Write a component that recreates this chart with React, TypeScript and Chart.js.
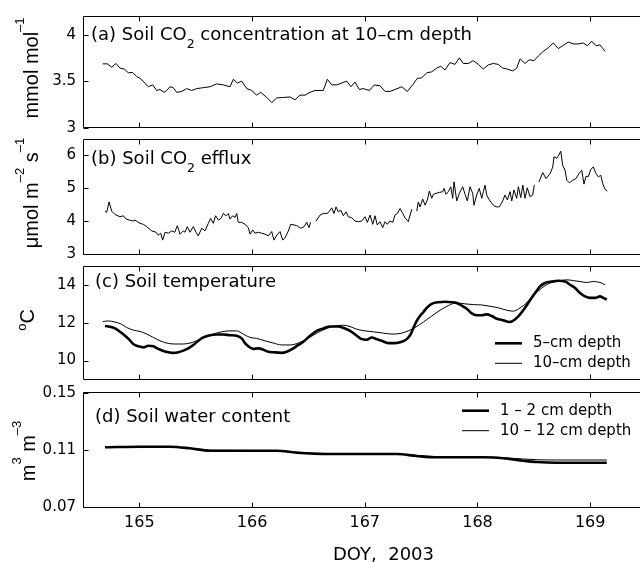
import React, { useEffect, useRef } from "react";
import { Chart, registerables } from "chart.js";

Chart.register(...registerables);

const W = 640;
const H = 562;
const DJ = "'DejaVu Sans', sans-serif";
const LS = "'Liberation Sans', Arial, sans-serif";

// ---------- x axis ----------
const X_MIN = 164.5;
const X_MAX = 169.442;
const X_TICKS = [165, 166, 167, 168, 169];

// ---------- (a) soil CO2 concentration at 10 cm (mmol/mol) ----------
const CO2_DOY = [164.675,164.716,164.755,164.793,164.828,164.866,164.902,164.941,164.976,165.006,165.041,165.079,165.118,165.154,165.183,165.219,165.243,165.272,165.301,165.331,165.376,165.42,165.465,165.509,165.567,165.627,165.686,165.745,165.804,165.834,165.869,165.908,165.953,165.997,166.041,166.077,166.13,166.174,166.219,166.277,166.337,166.381,166.425,166.47,166.514,166.559,166.603,166.632,166.668,166.707,166.751,166.795,166.84,166.878,166.913,166.952,166.987,167.04,167.085,167.135,167.18,167.224,167.268,167.328,167.378,167.425,167.466,167.505,167.55,167.594,167.638,167.674,167.712,167.756,167.801,167.839,167.874,167.919,167.963,168.008,168.052,168.096,168.141,168.185,168.224,168.265,168.313,168.348,168.378,168.422,168.46,168.502,168.54,168.584,168.629,168.673,168.717,168.762,168.806,168.851,168.895,168.939,168.975,169.014,169.052,169.087,169.132];
const CO2_CONC = [3.686,3.686,3.65,3.69,3.64,3.63,3.59,3.594,3.55,3.53,3.49,3.44,3.46,3.40,3.41,3.38,3.40,3.44,3.43,3.38,3.39,3.42,3.40,3.42,3.43,3.44,3.47,3.46,3.44,3.52,3.48,3.50,3.42,3.40,3.35,3.38,3.325,3.27,3.32,3.325,3.33,3.30,3.35,3.35,3.38,3.40,3.40,3.40,3.52,3.46,3.46,3.48,3.50,3.44,3.49,3.41,3.42,3.40,3.46,3.45,3.39,3.39,3.41,3.44,3.39,3.46,3.53,3.535,3.59,3.60,3.64,3.66,3.62,3.70,3.68,3.75,3.69,3.69,3.72,3.68,3.63,3.675,3.69,3.68,3.64,3.63,3.61,3.64,3.74,3.69,3.73,3.72,3.77,3.82,3.86,3.91,3.85,3.885,3.92,3.90,3.90,3.91,3.88,3.93,3.88,3.89,3.82];

// ---------- (b) soil CO2 efflux (umol m-2 s-1), null = missing ----------
const EFFLUX_DOY = [164.695,164.71,164.731,164.755,164.784,164.828,164.858,164.882,164.911,164.941,164.961,165.006,165.035,165.065,165.11,165.148,165.168,165.189,165.207,165.228,165.257,165.287,165.314,165.337,165.361,165.39,165.405,165.425,165.449,165.479,165.503,165.523,165.553,165.583,165.612,165.633,165.656,165.677,165.701,165.724,165.745,165.769,165.789,165.804,165.828,165.849,165.864,165.878,165.908,165.937,165.967,165.982,166.006,166.026,166.055,166.086,166.115,166.144,166.174,166.195,166.219,166.248,166.272,166.292,166.322,166.343,166.372,166.396,166.432,166.461,166.485,166.505,166.52,166.543,166.567,166.603,166.632,166.668,166.685,166.707,166.727,166.745,166.765,166.787,166.81,166.834,166.854,166.884,166.913,166.943,166.973,167.002,167.023,167.047,167.071,167.091,167.111,167.135,167.159,167.18,167.2,167.224,167.248,167.268,167.289,167.313,167.337,167.357,167.386,167.417,167.44,167.461,167.475,167.49,167.514,167.535,167.555,167.573,167.594,167.608,167.632,167.662,167.692,167.703,167.721,167.741,167.763,167.78,167.792,167.816,167.839,167.869,167.89,167.91,167.934,167.958,167.969,167.993,168.016,168.038,168.052,168.067,168.082,168.105,168.141,168.165,168.194,168.224,168.244,168.265,168.289,168.304,168.324,168.348,168.363,168.384,168.402,168.422,168.442,168.466,168.49,168.504,168.525,168.546,168.579,168.608,168.644,168.668,168.679,168.703,168.721,168.739,168.756,168.777,168.792,168.815,168.845,168.874,168.904,168.925,168.945,168.963,168.984,169.005,169.028,169.052,169.072,169.094,169.111,169.132,169.152];
const EFFLUX = [4.31,4.27,4.59,4.31,4.21,4.14,4.17,4.07,4.04,4.01,4.04,3.94,3.91,3.84,3.71,3.67,3.58,3.64,3.43,3.67,3.64,3.71,3.67,3.87,3.61,3.71,3.67,3.84,3.67,3.84,3.67,3.56,3.79,3.71,3.94,4.09,3.94,4.17,4.04,4.09,4.24,4.17,4.24,4.07,4.17,4.12,4.24,3.97,3.97,3.91,3.81,3.61,3.74,3.64,3.67,3.64,3.61,3.56,3.69,3.43,3.58,3.69,3.43,3.50,3.71,3.91,3.89,3.87,3.79,3.84,3.97,3.81,3.97,null,4.01,4.19,4.24,4.24,4.31,4.41,4.24,4.44,4.29,4.34,4.17,4.29,4.14,4.11,4.01,3.99,4.01,4.14,3.97,4.19,3.91,4.17,3.89,3.99,3.81,3.99,3.91,4.01,3.97,4.19,4.24,4.39,4.24,4.11,3.99,4.37,null,4.31,4.59,4.44,4.68,4.49,4.65,4.92,4.70,4.82,4.85,4.88,4.90,5.0,4.82,4.90,5.05,4.70,5.2,4.62,4.85,5.05,4.82,4.62,5.05,4.85,4.49,4.80,5.0,4.70,4.90,5.10,4.80,4.65,4.49,4.44,4.44,4.62,4.80,4.65,4.90,4.62,4.95,4.70,5.05,4.72,5.10,4.70,5.02,4.75,4.80,5.10,null,5.2,5.48,5.30,5.45,5.65,5.96,5.91,6.01,6.13,5.70,5.55,5.25,5.17,5.25,5.30,5.47,5.55,5.13,5.37,5.36,5.58,5.65,5.45,5.35,5.40,5.15,4.97,4.92];

// ---------- (c) soil temperature (degC) ----------
const T5_DOY = [164.695,164.74,164.784,164.828,164.873,164.911,164.946,164.991,165.035,165.079,165.124,165.168,165.213,165.257,165.301,165.346,165.39,165.434,165.479,165.523,165.567,165.627,165.686,165.745,165.804,165.864,165.908,165.937,165.967,166.011,166.055,166.1,166.144,166.189,166.263,166.307,166.366,166.41,166.455,166.514,166.574,166.632,166.692,166.765,166.825,166.884,166.929,166.973,167.017,167.062,167.106,167.15,167.209,167.268,167.328,167.372,167.408,167.437,167.461,167.49,167.52,167.55,167.594,167.653,167.712,167.772,167.816,167.86,167.905,167.949,167.993,168.038,168.082,168.127,168.171,168.229,168.283,168.333,168.378,168.422,168.466,168.511,168.555,168.599,168.659,168.717,168.777,168.821,168.866,168.91,168.954,168.999,169.043,169.087,169.117,169.147];
const T5 = [11.84,11.80,11.71,11.53,11.32,11.11,10.88,10.76,10.70,10.79,10.76,10.62,10.51,10.44,10.41,10.44,10.53,10.65,10.83,11.05,11.23,11.35,11.39,11.39,11.35,11.32,11.18,10.93,10.76,10.62,10.65,10.58,10.47,10.44,10.41,10.47,10.65,10.83,11.0,11.32,11.58,11.71,11.81,11.81,11.71,11.53,11.32,11.14,11.11,11.23,11.14,11.05,10.93,10.93,11.0,11.14,11.41,11.81,12.11,12.37,12.58,12.81,13.02,13.11,13.13,13.11,13.07,12.93,12.76,12.51,12.41,12.41,12.46,12.37,12.23,12.14,12.05,12.19,12.46,12.81,13.21,13.60,13.95,14.13,14.21,14.25,14.21,14.04,13.86,13.60,13.42,13.34,13.34,13.42,13.34,13.25];
const T10_DOY = [164.675,164.724,164.784,164.843,164.888,164.946,165.006,165.065,165.124,165.183,165.243,165.316,165.385,165.449,165.509,165.583,165.656,165.731,165.804,165.864,165.922,165.982,166.041,166.115,166.189,166.263,166.337,166.41,166.485,166.574,166.662,166.736,166.81,166.869,166.929,167.002,167.076,167.165,167.239,167.313,167.386,167.446,167.52,167.594,167.668,167.741,167.816,167.89,167.963,168.038,168.111,168.185,168.26,168.318,168.378,168.437,168.496,168.57,168.644,168.703,168.792,168.851,168.91,168.969,169.028,169.087,169.132];
const T10 = [12.07,12.11,12.05,11.93,11.76,11.62,11.55,11.41,11.23,11.05,10.93,10.88,10.88,10.93,11.05,11.23,11.41,11.53,11.58,11.58,11.41,11.23,11.18,11.05,10.93,10.83,10.83,10.93,11.14,11.46,11.71,11.84,11.88,11.81,11.67,11.58,11.53,11.46,11.41,11.44,11.58,11.76,12.05,12.37,12.68,12.93,13.07,13.02,12.98,12.96,12.89,12.81,12.68,12.63,12.81,13.07,13.46,13.86,14.13,14.21,14.30,14.26,14.21,14.16,14.21,14.16,14.04];

// ---------- (d) soil water content (m3 m-3) ----------
const SWC_DOY = [164.695,165.006,165.272,165.449,165.627,165.893,166.219,166.396,166.692,167.076,167.283,167.461,167.638,167.816,168.052,168.229,168.407,168.526,168.703,169.147];
const SWC_1_2 = [0.1118,0.1122,0.1122,0.1111,0.1094,0.1094,0.1094,0.1080,0.1071,0.1071,0.1071,0.1057,0.1048,0.1048,0.1048,0.1041,0.1024,0.1015,0.1010,0.1010];
const SWC_10_12 = [0.1117,0.1120,0.1120,0.1110,0.1097,0.1096,0.1095,0.1084,0.1074,0.1073,0.1073,0.1061,0.1052,0.1050,0.1050,0.1045,0.1036,0.1031,0.1029,0.1029];

// ---------- y ticks ----------
const Y_TICKS_A = [3, 3.5, 4];
const Y_TICKS_B = [3, 4, 5, 6];
const Y_TICKS_C = [10, 12, 14];
const Y_TICKS_D = [0.07, 0.11, 0.15];

const LEGEND_C = ["5–cm depth", "10–cm depth"];
const LEGEND_D = ["1 – 2 cm depth", "10 – 12 cm depth"];

type Seg = { t: string; s: number; r?: number };

const pts = (xs: number[], ys: (number | null)[]) => xs.map((x, i) => ({ x, y: ys[i] }));

function segsWidth(ctx: CanvasRenderingContext2D, segs: Seg[], fam: string) {
  let w = 0;
  for (const g of segs) {
    ctx.font = `${g.s}px ${fam}`;
    w += ctx.measureText(g.t).width;
  }
  return w;
}
function drawSegs(ctx: CanvasRenderingContext2D, segs: Seg[], x: number, y: number, fam: string) {
  let cx = x;
  for (const g of segs) {
    ctx.font = `${g.s}px ${fam}`;
    ctx.fillText(g.t, cx, y - (g.r || 0));
    cx += ctx.measureText(g.t).width;
  }
}

type Panel = {
  top: number;
  bottom: number;
  yMin: number;
  yMax: number;
  yTicks: number[];
  showX: boolean;
  datasets: any[];
  title: { x: number; y: number; segs: Seg[] };
  ylab: { bx: number; cy: number; segs: Seg[] };
  legend?: { x0: number; x1: number; tx: number; ys: number[]; labels: string[] };
};

const PANELS: Panel[] = [
  {
    top: 13.5, bottom: 127.7, yMin: 3, yMax: 4.2, yTicks: Y_TICKS_A, showX: false,
    datasets: [{ data: pts(CO2_DOY, CO2_CONC), borderColor: "#000", borderWidth: 1 }],
    title: { x: 91, y: 39.5, segs: [{ t: "(a) Soil CO", s: 18 }, { t: "2", s: 12.5, r: -8 }, { t: " concentration at 10–cm depth", s: 18 }] },
    ylab: { bx: 38, cy: 68, segs: [{ t: "mmol mol", s: 20 }, { t: "–1", s: 13, r: 14 }] },
  },
  {
    top: 139, bottom: 254.3, yMin: 3, yMax: 6.5, yTicks: Y_TICKS_B, showX: false,
    datasets: [{ data: pts(EFFLUX_DOY, EFFLUX), borderColor: "#000", borderWidth: 1, spanGaps: false }],
    title: { x: 91, y: 163.5, segs: [{ t: "(b) Soil CO", s: 18 }, { t: "2", s: 12.5, r: -8 }, { t: " efflux", s: 18 }] },
    ylab: { bx: 38, cy: 193, segs: [{ t: "μmol m", s: 20 }, { t: "–2", s: 13, r: 14 }, { t: " s", s: 20 }, { t: "–1", s: 13, r: 14 }] },
  },
  {
    top: 266.7, bottom: 379.3, yMin: 9, yMax: 15, yTicks: Y_TICKS_C, showX: false,
    datasets: [
      { data: pts(T5_DOY, T5), borderColor: "#000", borderWidth: 2.6, cubicInterpolationMode: "monotone" },
      { data: pts(T10_DOY, T10), borderColor: "#000", borderWidth: 1, cubicInterpolationMode: "monotone" },
    ],
    title: { x: 95, y: 286.7, segs: [{ t: "(c) Soil temperature", s: 18 }] },
    ylab: { bx: 33.5, cy: 320, segs: [{ t: "o", s: 13, r: 8 }, { t: "C", s: 20 }] },
    legend: { x0: 495, x1: 522, tx: 533, ys: [343.3, 363.3], labels: LEGEND_C },
  },
  {
    top: 392.7, bottom: 507, yMin: 0.07, yMax: 0.15, yTicks: Y_TICKS_D, showX: true,
    datasets: [
      { data: pts(SWC_DOY, SWC_1_2), borderColor: "#000", borderWidth: 2.6, cubicInterpolationMode: "monotone" },
      { data: pts(SWC_DOY, SWC_10_12), borderColor: "#000", borderWidth: 1, cubicInterpolationMode: "monotone" },
    ],
    title: { x: 95, y: 421.7, segs: [{ t: "(d) Soil water content", s: 18 }] },
    ylab: { bx: 35, cy: 451, segs: [{ t: "m", s: 20 }, { t: "3", s: 13, r: 14 }, { t: " m", s: 20 }, { t: "–3", s: 13, r: 14 }] },
    legend: { x0: 462, x1: 489, tx: 500, ys: [410.7, 430.7], labels: LEGEND_D },
  },
];

function makeDecor(p: Panel) {
  return {
    id: "decor",
    afterDraw(chart: any) {
      const { ctx, chartArea: a, scales } = chart;
      const xs = scales.x;
      const ys = scales.y;
      const L = Math.round(a.left) + 0.5;
      const T = Math.floor(a.top) + 0.5;
      const B = Math.floor(a.bottom) + 0.5;
      ctx.save();
      ctx.strokeStyle = "#000";
      ctx.lineWidth = 1;
      ctx.beginPath();
      ctx.moveTo(W + 2, T);
      ctx.lineTo(L, T);
      ctx.lineTo(L, B);
      ctx.lineTo(W + 2, B);
      ctx.stroke();
      // inward ticks
      ctx.beginPath();
      for (const v of X_TICKS) {
        const px = Math.round(xs.getPixelForValue(v)) + 0.5;
        ctx.moveTo(px, T);
        ctx.lineTo(px, T + 5);
        ctx.moveTo(px, B);
        ctx.lineTo(px, B - 5);
      }
      for (const v of p.yTicks) {
        const py = Math.round(ys.getPixelForValue(v)) + 0.5;
        ctx.moveTo(L, py);
        ctx.lineTo(L + 5, py);
      }
      ctx.stroke();

      ctx.fillStyle = "#000";
      ctx.textBaseline = "alphabetic";
      ctx.textAlign = "left";
      // panel title
      drawSegs(ctx, p.title.segs, p.title.x, p.title.y, DJ);

      // y axis title (rotated)
      const w = segsWidth(ctx, p.ylab.segs, LS);
      ctx.save();
      ctx.translate(p.ylab.bx, p.ylab.cy);
      ctx.rotate(-Math.PI / 2);
      drawSegs(ctx, p.ylab.segs, -w / 2, 0, LS);
      ctx.restore();

      // legend
      if (p.legend) {
        const lg = p.legend;
        chart.data.datasets.forEach((ds: any, i: number) => {
          ctx.beginPath();
          ctx.lineWidth = ds.borderWidth;
          ctx.strokeStyle = ds.borderColor;
          ctx.moveTo(lg.x0, lg.ys[i]);
          ctx.lineTo(lg.x1, lg.ys[i]);
          ctx.stroke();
          ctx.font = `15px ${DJ}`;
          ctx.textBaseline = "middle";
          ctx.fillText(lg.labels[i], lg.tx, lg.ys[i]);
        });
      }

      // x axis title
      if (p.showX) {
        ctx.textBaseline = "alphabetic";
        ctx.font = `18px ${DJ}`;
        ctx.fillText("DOY,  2003", 333, 559.5);
      }
      ctx.restore();
    },
  };
}

function PanelChart({ p }: { p: Panel }) {
  const ref = useRef<HTMLCanvasElement | null>(null);
  useEffect(() => {
    if (!ref.current) return;
    const xh = p.showX ? 30 : 0;
    const chart = new Chart(ref.current, {
      type: "line",
      data: {
        datasets: p.datasets.map((d) => ({
          pointRadius: 0,
          tension: 0,
          fill: false,
          spanGaps: false,
          ...d,
        })),
      },
      options: {
        animation: false,
        responsive: false,
        maintainAspectRatio: false,
        events: [],
        layout: { padding: { top: p.top, bottom: H - p.bottom - xh, left: 0, right: 0 } },
        plugins: { legend: { display: false }, tooltip: { enabled: false } },
        scales: {
          x: {
            type: "linear",
            min: X_MIN,
            max: X_MAX,
            afterBuildTicks: (s: any) => {
              s.ticks = X_TICKS.map((v) => ({ value: v }));
            },
            afterFit: (s: any) => {
              s.height = xh;
            },
            ticks: {
              display: p.showX,
              color: "#000",
              font: { family: DJ, size: 16 },
              padding: 6,
              maxRotation: 0,
              autoSkip: false,
              callback: (v: any) => String(v),
            },
            grid: { display: false, drawTicks: false, tickLength: 0 },
            border: { display: false },
          },
          y: {
            type: "linear",
            min: p.yMin,
            max: p.yMax,
            afterBuildTicks: (s: any) => {
              s.ticks = p.yTicks.map((v) => ({ value: v }));
            },
            afterFit: (s: any) => {
              s.width = 83;
            },
            ticks: {
              color: "#000",
              font: { family: DJ, size: 15 },
              padding: 7,
              autoSkip: false,
              callback: (v: any) => String(v),
            },
            grid: { display: false, drawTicks: false, tickLength: 0 },
            border: { display: false },
          },
        },
      } as any,
      plugins: [makeDecor(p)],
    });
    return () => chart.destroy();
  }, [p]);
  return (
    <canvas
      ref={ref}
      width={W}
      height={H}
      style={{ position: "absolute", left: 0, top: 0, width: W, height: H }}
    />
  );
}

export default function App() {
  return (
    <div
      style={{
        position: "fixed",
        left: 0,
        top: 0,
        width: W,
        height: H,
        background: "#fff",
        overflow: "hidden",
      }}
    >
      {PANELS.map((p, i) => (
        <PanelChart key={i} p={p} />
      ))}
    </div>
  );
}
